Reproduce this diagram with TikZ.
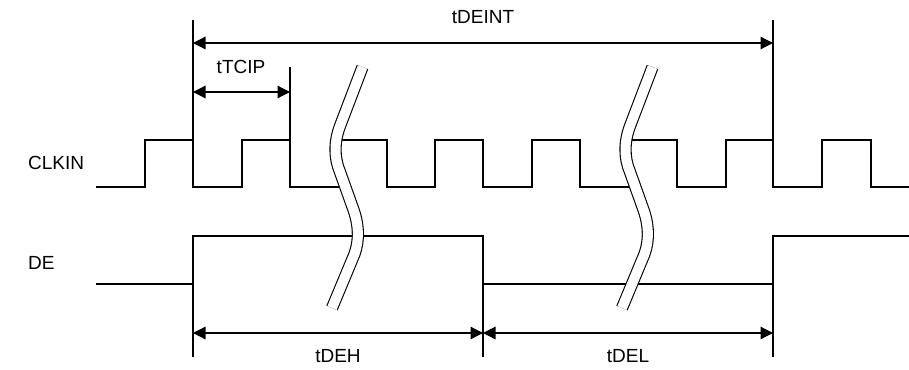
\documentclass[tikz,border=0pt]{standalone}
\usepackage{fontspec}
\setmainfont{Liberation Sans}
\usetikzlibrary{arrows.meta}
\begin{document}
\begin{tikzpicture}[x=1pt,y=-1pt,
  sig/.style={line width=1.2pt, line join=miter},
  guide/.style={line width=1.2pt},
  dim/.style={line width=1.2pt, {Triangle[length=12.5pt,width=12.5pt]}-{Triangle[length=12.5pt,width=12.5pt]}},
  brk/.style={line width=1.1pt, double=white, double distance=10pt},
  lbl/.style={font=\fontsize{19}{22}\selectfont, inner sep=0pt}]
\useasboundingbox (0,0) rectangle (909,369);

% labels
\node[lbl, anchor=west] (clk) at (28,163) {CLKIN};
\node[lbl, anchor=west] (de) at (28,263) {DE};
\node[lbl] (tdeint) at (483,17) {tDEINT};
\node[lbl] (ttcip) at (241,67) {tTCIP};
\node[lbl] (tdeh) at (338,356) {tDEH};
\node[lbl] (tdel) at (628,356) {tDEL};

% CLKIN
\draw[sig] (96,187) -| (145,140) -| (193,187) -| (242,140) -| (290,187) -- (344,187);
\draw[sig] (337,140) -| (387,187) -| (435,140) -| (483,187) -| (532,140) -| (580,187) -- (635,187);
\draw[sig] (627,140) -| (677,187) -| (726,140) -| (773,187) -| (822,140) -| (871,187) -- (909,187);

% DE
\draw[sig] (96,284) -| (193,236) -- (359,236);
\draw[sig] (356,236) -| (483,284) -- (634,284);
\draw[sig] (630,284) -| (773,236) -- (909,236);

% guide lines
\coordinate (a1) at (193,20);  \coordinate (a2) at (193,187);
\coordinate (a3) at (193,236); \coordinate (a4) at (193,357);
\coordinate (b1) at (290,67);  \coordinate (b2) at (290,187);
\coordinate (c1) at (483,236); \coordinate (c2) at (483,357);
\coordinate (d1) at (773,20);  \coordinate (d2) at (773,187);
\coordinate (d3) at (773,236); \coordinate (d4) at (773,357);
\draw[guide] (a1) -- (a2);
\draw[guide] (a3) -- (a4);
\draw[guide] (b1) -- (b2);
\draw[guide] (c1) -- (c2);
\draw[guide] (d1) -- (d2);
\draw[guide] (d3) -- (d4);

% dimension arrows
\coordinate (p1) at (193,43);  \coordinate (p2) at (773,43);
\coordinate (q1) at (193,92);  \coordinate (q2) at (290,92);
\coordinate (r1) at (193,333); \coordinate (r2) at (483,333); \coordinate (r3) at (773,333);
\draw[dim] (p1) -- (p2);
\draw[dim] (q1) -- (q2);
\draw[dim] (r1) -- (r2);
\draw[dim] (r2) -- (r3);

% break symbols
\foreach \dx in {0,290}{
  \begin{scope}[xshift=\dx]
  \draw[brk] (362.5,67) -- (340,126) .. controls (334,142) and (334,158) .. (340,172)
     -- (352.5,207) .. controls (359,224) and (359.5,240) .. (354.5,254) -- (332,308);
  \end{scope}
}
\end{tikzpicture}
\end{document}
